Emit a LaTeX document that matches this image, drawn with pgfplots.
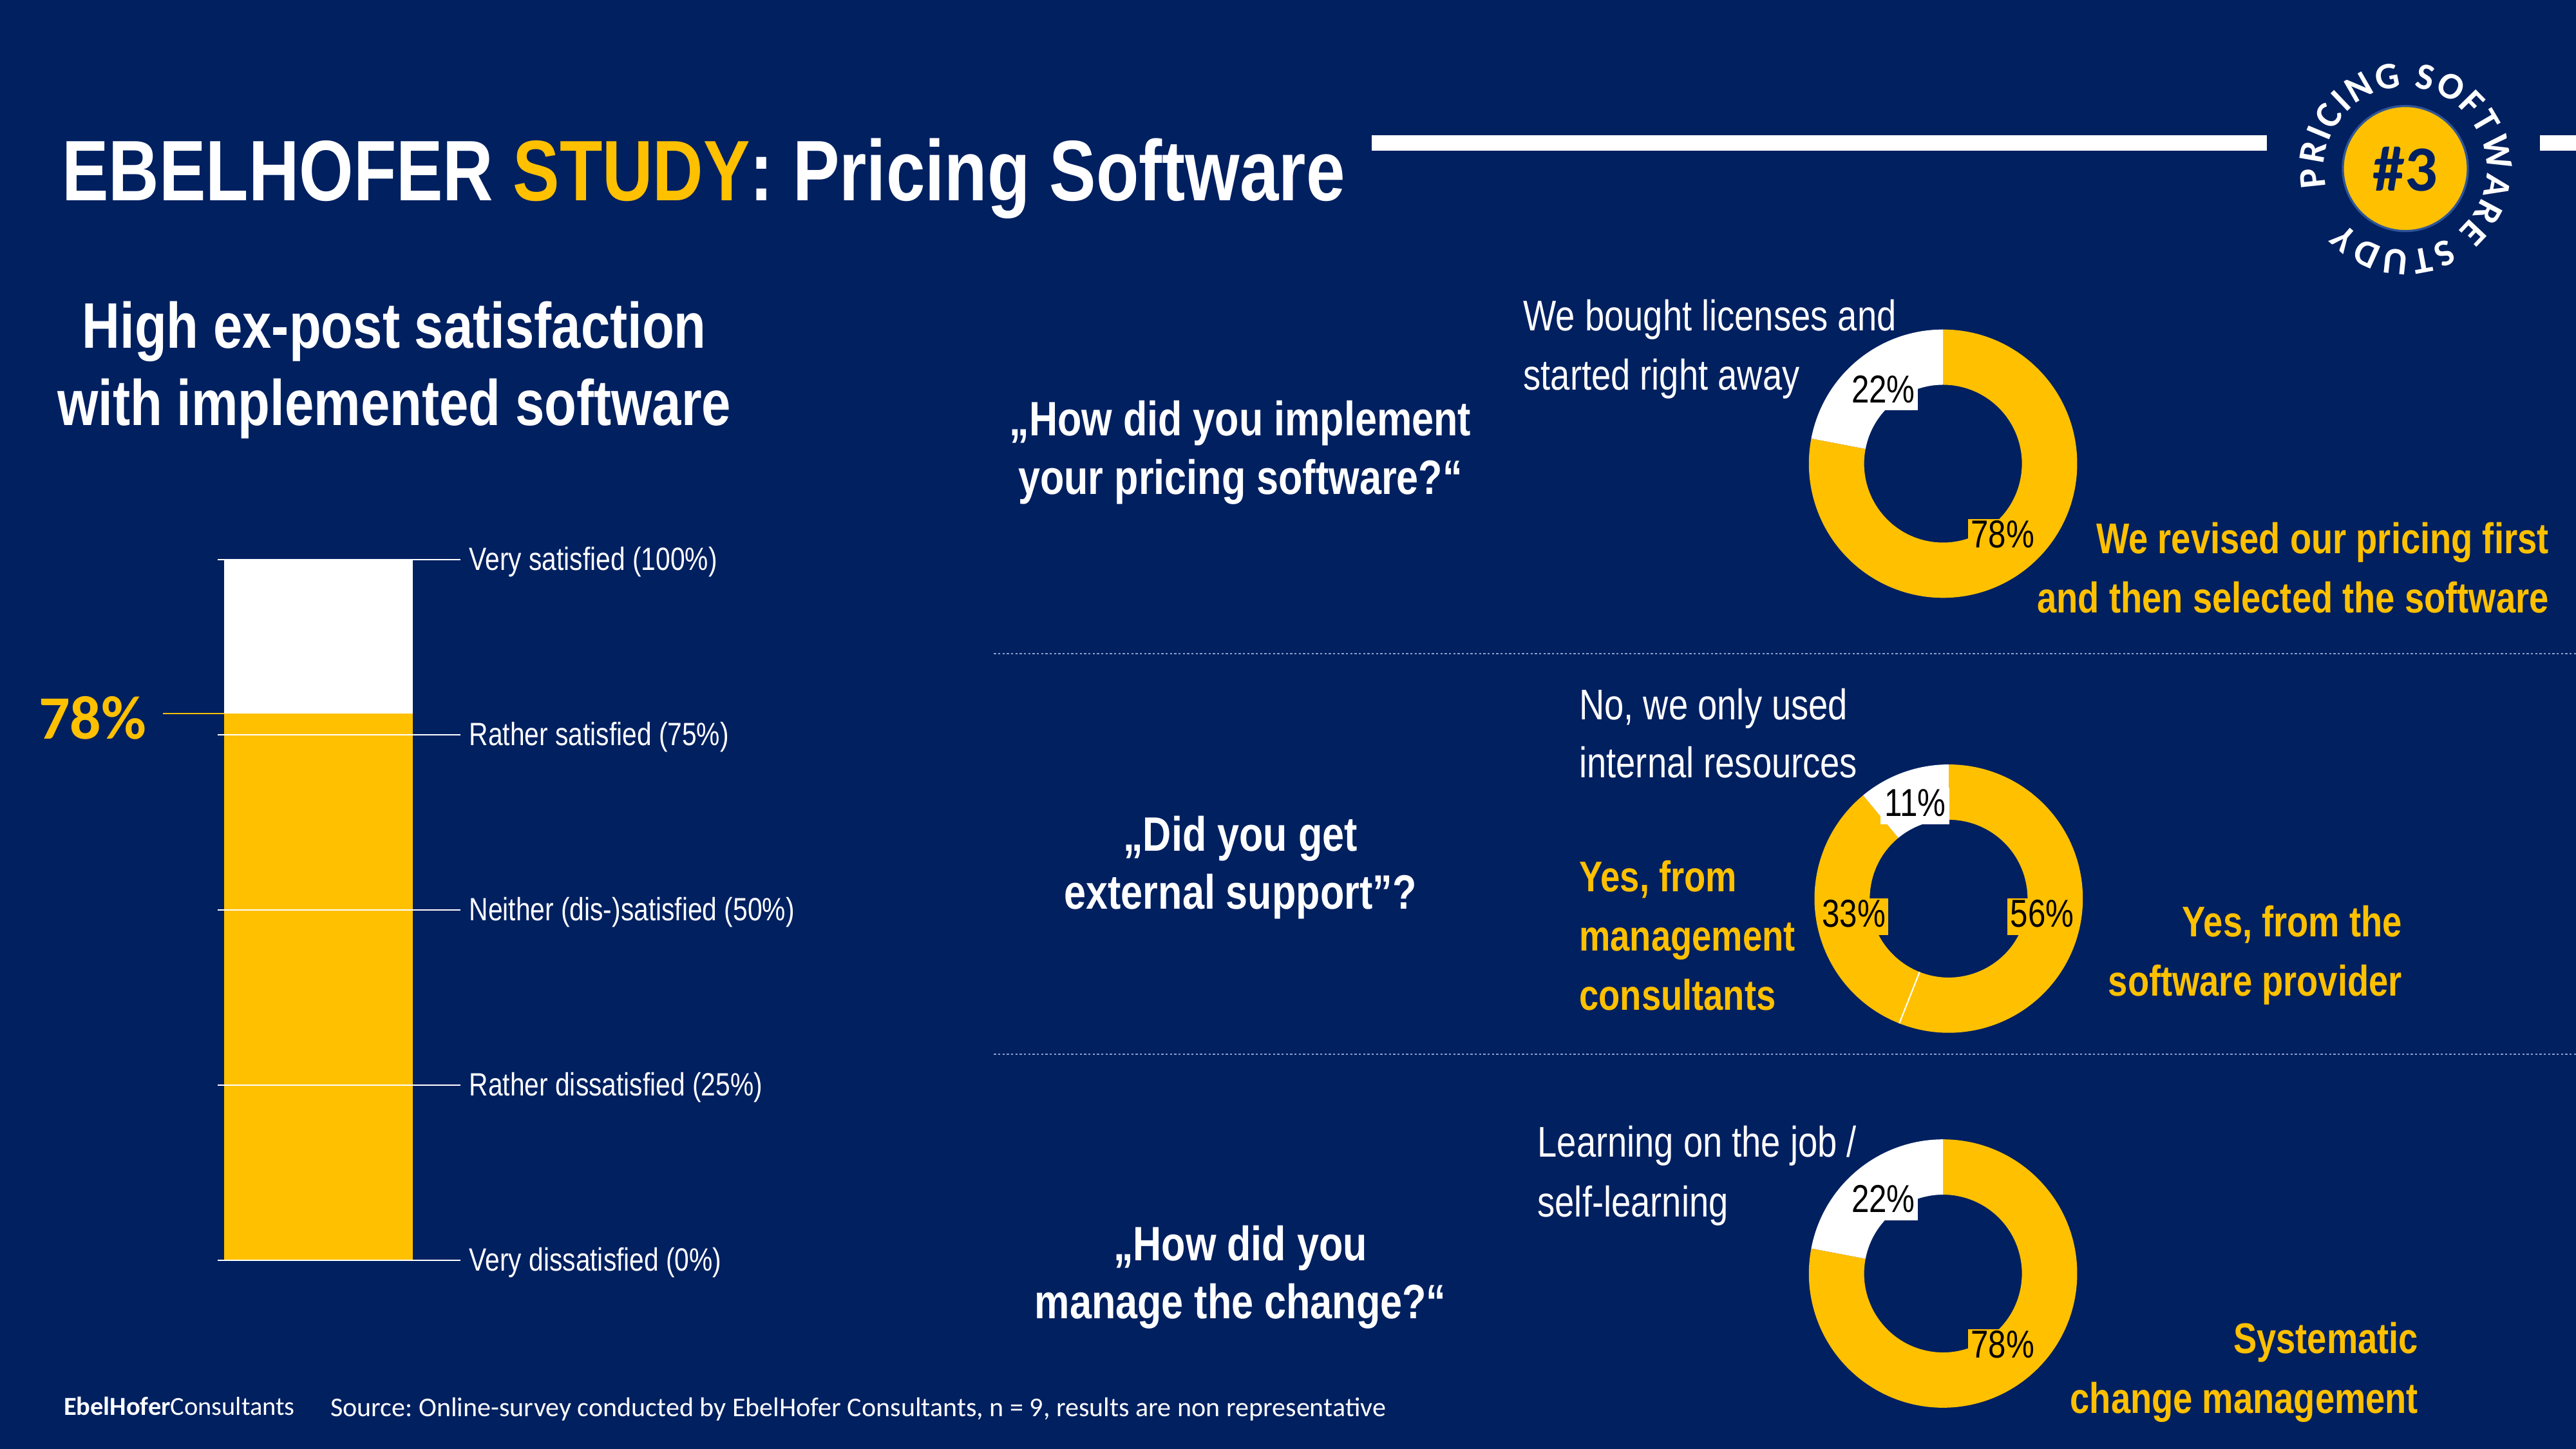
\documentclass[border=0pt]{standalone}
\usepackage{fontspec}
\usepackage{pgfplots}
\pgfplotsset{compat=1.18}
\usetikzlibrary{decorations.text}
\setmainfont{Liberation Sans}
\newfontfamily\narrow{Liberation Sans}[FakeStretch=0.815]
\newfontfamily\calibri{Carlito}
\definecolor{navy}{RGB}{0,32,96}
\definecolor{gold}{RGB}{255,192,0}
\definecolor{ringblue}{RGB}{47,85,151}
\definecolor{dotblue}{RGB}{140,160,205}
\def\Ro{50.0pt}
\def\Ri{29.4pt}
% donut sector from cumulative share #1 to #2 (percent), clockwise from 12 o'clock
\newcommand{\sector}[3]{%
  \fill[#3] (axis cs:0,0) ++({90-3.6*#1}:\Ro) arc[start angle={90-3.6*#1}, end angle={90-3.6*#2}, radius=\Ro]
     -- ++({270-3.6*#2}:{\Ro-\Ri}) arc[start angle={90-3.6*#2}, end angle={90-3.6*#1}, radius=\Ri] -- cycle;}
\newcommand{\sep}[1]{%
  \draw[white, line width=0.5pt] (axis cs:0,0) ++({90-3.6*#1}:\Ri) -- ++({90-3.6*#1}:{\Ro-\Ri});}
% label box: x, baseline (measured from top), fill, text
\newcommand{\pct}[4]{%
  \fill[#3] ({#1-21},{882-#2-4.8}) rectangle ({#1+21},{882-#2+17.5});
  \node[anchor=base, inner sep=0pt, text=black, font=\narrow\fontsize{14.5}{16}\selectfont] at ({#1},{882-#2}) {#4};}
% text line: anchor, x, baseline (measured from top), text
\newcommand{\lbl}[4]{%
  \node[anchor=#1, inner sep=0pt] at ({#2},{882-#3}) {#4};}
\frenchspacing
\begin{document}
\begin{tikzpicture}[x=0.612245pt, y=0.612245pt]
\useasboundingbox (0,0) rectangle (1568,882);
\fill[navy] (0,0) rectangle (1568,882);

% title
\node[anchor=base west, inner sep=0pt, text=white, font=\narrow\bfseries\fontsize{32}{38}\selectfont]
  at (37.4,759.9) {EBELHOFER \textcolor{gold}{STUDY}: Pricing Software};
\fill[white] (835,790.2) rectangle (1380,799.5);
\fill[white] (1546,790.2) rectangle (1568,799.5);

% logo
\fill[gold, draw=ringblue, line width=0.8pt] (1464.1,779.4) circle[radius=23.3pt];
\node[anchor=base, inner sep=0pt, text=navy, font=\calibri\bfseries\fontsize{24}{28}\selectfont] at (1464.1,765.7) {\#3};
\path[decorate, decoration={text along path, text color=white, text align=fit to path,
   text={|\calibri\bfseries\fontsize{14}{16}\selectfont|PRICING SOFTWARE STUDY}}]
   (1464.1,779.4) ++(193:30.3pt) arc[start angle=193, end angle=-138, radius=30.3pt];

% separators
\draw[dotblue, line width=0.5pt, dash pattern=on 0.8pt off 0.8pt] (605,484) -- (1568,484);
\draw[dotblue, line width=0.5pt, dash pattern=on 0.8pt off 0.8pt] (605,240.4) -- (1568,240.4);

% left heading
\begin{scope}[every node/.style={text=white, font=\narrow\bfseries\fontsize{24}{28}\selectfont}]
\lbl{base}{240}{211.8}{High ex-post satisfaction}
\lbl{base}{240}{259}{with implemented software}
\end{scope}

% questions
\begin{scope}[every node/.style={text=white, font=\narrow\bfseries\fontsize{18}{21}\selectfont}]
\lbl{base}{755}{265.2}{„How did you implement}
\lbl{base}{755}{300.7}{your pricing software?“}
\lbl{base}{755}{518.2}{„Did you get}
\lbl{base}{755}{553.2}{external support”?}
\lbl{base}{755}{767.2}{„How did you}
\lbl{base}{755}{802.7}{manage the change?“}
\end{scope}

% answers (white)
\begin{scope}[every node/.style={text=white, font=\narrow\fontsize{16}{19}\selectfont}]
\lbl{base west}{927}{201.3}{We bought licenses and}
\lbl{base west}{927}{237.4}{started right away}
\lbl{base west}{961}{437.9}{No, we only used}
\lbl{base west}{961}{473.4}{internal resources}
\lbl{base west}{935.6}{704.4}{Learning on the job /}
\lbl{base west}{935.6}{740.5}{self-learning}
\end{scope}
% answers (gold)
\begin{scope}[every node/.style={text=gold, font=\narrow\bfseries\fontsize{16}{19}\selectfont}]
\lbl{base east}{1551.7}{337}{We revised our pricing first}
\lbl{base east}{1551.7}{373.1}{and then selected the software}
\lbl{base west}{961}{542.9}{Yes, from}
\lbl{base west}{961}{578.9}{management}
\lbl{base west}{961}{614.9}{consultants}
\lbl{base east}{1462.4}{570.3}{Yes, from the}
\lbl{base east}{1462.4}{606.3}{software provider}
\lbl{base east}{1472.3}{823.9}{Systematic}
\lbl{base east}{1472.3}{860.2}{change management}
\end{scope}

% satisfaction bar
\begin{axis}[at={(81.18pt,70.35pt)}, anchor=south west, scale only axis,
  width=90.31pt, height=261.12pt,
  xmin=132.6, xmax=280.1, ymin=0, ymax=100, enlargelimits=false,
  ybar stacked, bar width=114.7, clip=false,
  axis line style={draw=none}, xtick=\empty,
  ytick={0,25,50,75,100},
  yticklabels={Very dissatisfied (0\%),Rather dissatisfied (25\%),Neither (dis-)satisfied (50\%),Rather satisfied (75\%),Very satisfied (100\%)},
  yticklabel pos=right, major tick length=0pt,
  yticklabel style={font=\narrow\fontsize{12}{14}\selectfont, text=white, anchor=west, inner sep=0pt, xshift=3.2pt, yshift=-1pt},
  ymajorgrids, grid style={white, line width=0.6pt}, axis on top]
\addplot[fill=gold, draw=none] coordinates {(193.85,78)};
\addplot[fill=white, draw=none] coordinates {(193.85,22)};
\draw[gold, line width=0.6pt] (axis cs:99,78) -- (axis cs:136.5,78);
\end{axis}
\node[anchor=base east, inner sep=0pt, text=gold, font=\calibri\bfseries\fontsize{23}{27}\selectfont] at (89.4,432) {78\%};

% donut 1
\begin{axis}[at={(724.1pt,367.2pt)}, anchor=center, scale only axis, width=100pt, height=100pt,
  hide axis, xmin=-1, xmax=1, ymin=-1, ymax=1, clip=false]
\addplot[draw=none, forget plot] coordinates {(0,0)};
\sector{0}{78}{gold}
\sector{78}{100}{white}
\end{axis}
% donut 2
\begin{axis}[at={(726.2pt,205.1pt)}, anchor=center, scale only axis, width=100pt, height=100pt,
  hide axis, xmin=-1, xmax=1, ymin=-1, ymax=1, clip=false]
\addplot[draw=none, forget plot] coordinates {(0,0)};
\sector{0}{56}{gold}
\sector{56}{89}{gold}
\sector{89}{100}{white}
\sep{56}
\end{axis}
% donut 3
\begin{axis}[at={(724.1pt,65.39pt)}, anchor=center, scale only axis, width=100pt, height=100pt,
  hide axis, xmin=-1, xmax=1, ymin=-1, ymax=1, clip=false]
\addplot[draw=none, forget plot] coordinates {(0,0)};
\sector{0}{78}{gold}
\sector{78}{100}{white}
\end{axis}

% percentage labels
\pct{1146.3}{245.1}{white}{22\%}
\pct{1219}{333.3}{gold}{78\%}
\pct{1165.7}{496.8}{white}{11\%}
\pct{1243}{564.3}{gold}{56\%}
\pct{1128.5}{564.3}{gold}{33\%}
\pct{1146.3}{738}{white}{22\%}
\pct{1219}{826.4}{gold}{78\%}

% footer
\node[anchor=base west, inner sep=0pt, text=white, font=\calibri\fontsize{9.7}{11}\selectfont] at (38.5,20.7) {\textbf{EbelHofer}Consultants};
\node[anchor=base west, inner sep=0pt, text=white, font=\calibri\fontsize{10.1}{12}\selectfont] at (200.8,19.6) {Source: Online-survey conducted by EbelHofer Consultants, n = 9, results are non representative};
\end{tikzpicture}
\end{document}
